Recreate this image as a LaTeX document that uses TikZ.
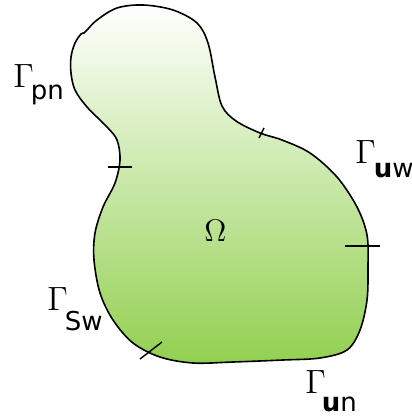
\documentclass[tikz,border=0pt]{standalone}
\usepackage{graphicx}
\usepackage{fontspec}
\usepackage{tikz}
\usetikzlibrary{positioning}
\newfontfamily\subsf{DejaVu Sans}
\definecolor{DomTop}{RGB}{255,255,255}
\definecolor{DomGreen}{RGB}{146,208,80}

\begin{document}
\begin{tikzpicture}[
    x=0.5pt, y=-0.5pt,
    omegaregion/.style={draw=black, line width=0.8pt, top color=DomTop, bottom color=DomGreen},
    tick/.style={draw=black, line width=0.7pt},
    bnd/.style={inner sep=0pt, anchor=base west, font=\fontsize{13}{15}\subsf}
  ]
  \useasboundingbox (0,0) rectangle (411,416);

  % the domain Omega
  \draw[omegaregion] plot[smooth cycle, tension=0.55] coordinates {
    (143,5) (173,10) (197,23) (208,43) (215,77) (222,106) (236,121)
    (260,133) (282,140) (310,153) (337,177) (357,207) (367,235)
    (368,267) (367,300) (360,330) (347,350) (320,358) (283,360)
    (233,362) (193,363) (160,357) (133,343) (113,320) (100,293)
    (94,260) (95,233) (103,207) (115,183) (120,160) (117,140)
    (107,127) (87,107) (75,90) (71,73) (71,57) (75,43) (81,34)
    (84,33) (87,30) (97,20) (117,8)
  };

  % boundary splits
  \draw[tick] (108,167) -- (132,167);
  \draw[tick] (345,246) -- (380,246);
  \draw[tick] (259,138) -- (264,128);
  \draw[tick] (140,359) -- (162,342);

  \node[bnd] (omega) at (204,242) {\scalebox{1.3}{$\Omega$}};

  \node[bnd] (gpn) at (13,88)
    {\scalebox{1.4}{$\Gamma$}\kern-1.5pt\raisebox{-6pt}{pn}};
  \node[bnd] (guw) at (355,164)
    {\scalebox{1.4}{$\Gamma$}\kern-1pt\raisebox{-7pt}{\textbf{u}w}};
  \node[bnd] (gsw) at (47,310)
    {\scalebox{1.4}{$\Gamma$}\kern-1.5pt\raisebox{-10pt}{Sw}};
  \node[bnd] (gun) at (305,393)
    {\scalebox{1.4}{$\Gamma$}\kern-2pt\raisebox{-9pt}{\textbf{u}n}};

\end{tikzpicture}
\end{document}
